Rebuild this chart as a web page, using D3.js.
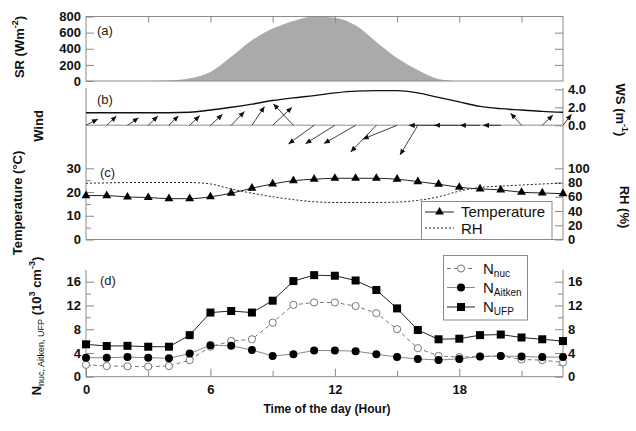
<!DOCTYPE html>
<html>
<head>
<meta charset="utf-8">
<script src="https://cdn.jsdelivr.net/npm/d3@7"></script>
<style>
  body { margin: 0; background: #fff; }
  svg { display: block; font-family: "Liberation Sans", Arial, sans-serif; }
  .tick text { font-weight: bold; font-size: 13px; fill: #111; }
  .tick line { stroke: #888; }
</style>
</head>
<body>
<svg id="chart" width="636" height="431"></svg>
<script>
// Hourly diurnal data, hour 0 .. 23
const hours = d3.range(24);
const srValues = [0, 0, 0, 0, 5, 33, 112, 300, 505, 650, 745, 800, 785, 690, 485, 285, 136, 25, 0, 0, 0, 0, 0, 0];
const wsValues = [1.4, 1.4, 1.4, 1.4, 1.4, 1.45, 1.7, 2.0, 2.35, 2.75, 3.05, 3.3, 3.6, 3.8, 3.85, 3.85, 3.6, 3.1, 2.6, 2.1, 1.85, 1.7, 1.55, 1.45];
// direction the wind blows toward, degrees clockwise from north
const windToward = [62, 46, 56, 46, 45, 46, 48, 44, 34, 47, 317, 234, 238, 240, 224, 248, 211, 270, 270, 270, 270, 318, 46, 38];
const tempValues = [18.5, 18.5, 17.9, 17.7, 17.2, 17.2, 18.0, 19.5, 21.6, 23.4, 24.8, 25.4, 25.8, 25.8, 25.8, 25.4, 24.4, 23.3, 22.0, 21.3, 20.9, 19.9, 19.6, 19.3];
const rhValues = [79, 79.5, 80, 80, 80, 80, 78, 71, 65, 60, 56, 53, 52, 52, 52, 52.5, 55, 60, 68, 73, 75, 76.5, 78, 79];
const nNuc = [2.0, 1.8, 1.75, 1.7, 1.8, 2.8, 5.05, 6.0, 6.3, 9.1, 12.1, 12.5, 12.5, 11.9, 10.7, 8.0, 4.8, 3.5, 3.3, 3.4, 3.5, 2.9, 2.8, 2.4];
const nAitken = [3.2, 3.2, 3.3, 3.2, 3.1, 3.9, 5.3, 5.2, 4.5, 3.5, 3.8, 4.4, 4.4, 4.3, 3.8, 3.3, 3.0, 2.8, 3.0, 3.4, 3.5, 3.4, 3.3, 3.3];
const nUfp = [5.45, 5.17, 5.2, 5.05, 5.05, 7.0, 10.8, 11.06, 10.8, 12.8, 16.1, 17.1, 17.0, 16.2, 14.6, 11.5, 7.86, 6.3, 6.4, 7.0, 7.1, 6.6, 6.3, 6.0];

const hourLabelTicks = [0, 6, 12, 18];
const hourMinorTicks = [3, 6, 9, 12, 15, 18, 21];
const srTicks = [0, 200, 400, 600, 800];
const wsTicks = [0, 2, 4];
const tempTicks = [0, 10, 20, 30];
const tempMinor = [5, 15, 25];
const rhTicks = [0, 20, 40, 60, 80, 100];
const nTicks = [0, 4, 8, 12, 16];
const nMinor = [2, 6, 10, 14];

const svg = d3.select("#chart");
const frame = "#8a8a8a";

const x = d3.scaleLinear().domain([0, 23]).range([86, 563]);
const ySR = d3.scaleLinear().domain([0, 800]).range([81, 16.5]);
const yWS = d3.scaleLinear().domain([0, 4]).range([125.3, 89.3]);
const arrowLen = d3.scaleLinear().domain([0, 4]).range([0, 38.5]);
const yT = d3.scaleLinear().domain([0, 30]).range([239.5, 168.3]);
const yRH = d3.scaleLinear().domain([0, 100]).range([239.5, 168.3]);
const yN = d3.scaleLinear().domain([0, 18]).range([376.7, 269.8]);

function axis(gen, tx, ty) {
  const g = svg.append("g").attr("transform", `translate(${tx},${ty})`).call(gen);
  g.select(".domain").remove();
  return g;
}
function vline(xp, y1, y2) {
  svg.append("line").attr("x1", xp).attr("x2", xp).attr("y1", y1).attr("y2", y2)
    .attr("stroke", frame).attr("stroke-width", 1);
}
function hline(yp, x1, x2) {
  svg.append("line").attr("x1", x1).attr("x2", x2).attr("y1", yp).attr("y2", yp)
    .attr("stroke", frame).attr("stroke-width", 1);
}

// ---------- (a) solar radiation ----------
svg.append("path")
  .datum(hours)
  .attr("fill", "#aaaaaa")
  .attr("d", d3.area().x(h => x(h)).y0(ySR(0)).y1(h => ySR(srValues[h])).curve(d3.curveMonotoneX));

svg.append("rect").attr("x", x(0)).attr("y", ySR(800))
  .attr("width", x(23) - x(0)).attr("height", ySR(0) - ySR(800))
  .attr("fill", "none").attr("stroke", frame);

axis(d3.axisLeft(ySR).tickValues(srTicks).tickSize(-8).tickPadding(5), x(0), 0);
axis(d3.axisRight(ySR).tickValues([200, 400, 600]).tickSize(-8).tickFormat(""), x(23), 0);
axis(d3.axisTop(x).tickValues(hourMinorTicks).tickSize(-6).tickFormat(""), 0, ySR(800));

// ---------- (b) wind ----------
vline(x(0), 88, yT(0));
vline(x(23), 88, yT(0));
hline(yT(0), x(0), x(23));

svg.append("line").attr("x1", x(0)).attr("x2", x(23))
  .attr("y1", yWS(0)).attr("y2", yWS(0))
  .attr("stroke", "#b4b4b4").attr("stroke-width", 1.5);

svg.append("path")
  .datum(hours)
  .attr("fill", "none").attr("stroke", "#111").attr("stroke-width", 1.4)
  .attr("d", d3.line().x(h => x(h)).y(h => yWS(wsValues[h])).curve(d3.curveMonotoneX));

svg.append("defs").append("marker")
  .attr("id", "head").attr("markerUnits", "userSpaceOnUse")
  .attr("viewBox", "0 -3 6 6").attr("refX", 6).attr("refY", 0)
  .attr("markerWidth", 6).attr("markerHeight", 6).attr("orient", "auto")
  .append("path").attr("d", "M0,-2.6L6,0L0,2.6Z").attr("fill", "#111");

svg.append("g").selectAll("line").data(hours).join("line")
  .attr("x1", h => x(h)).attr("y1", yWS(0))
  .attr("x2", h => x(h) + arrowLen(wsValues[h]) * Math.sin(windToward[h] * Math.PI / 180))
  .attr("y2", h => yWS(0) - arrowLen(wsValues[h]) * Math.cos(windToward[h] * Math.PI / 180))
  .attr("stroke", "#111").attr("stroke-width", 0.8)
  .attr("marker-end", "url(#head)");

axis(d3.axisRight(yWS).tickValues(wsTicks).tickSize(-8).tickPadding(5).tickFormat(d3.format(".1f")), x(23), 0);

// ---------- (c) temperature and RH ----------
axis(d3.axisLeft(yT).tickValues(tempTicks).tickSize(-8).tickPadding(5), x(0), 0);
axis(d3.axisLeft(yT).tickValues(tempMinor).tickSize(-5).tickFormat(""), x(0), 0);
axis(d3.axisRight(yRH).tickValues(rhTicks).tickSize(-8).tickPadding(5), x(23), 0);

svg.append("path")
  .datum(hours)
  .attr("fill", "none").attr("stroke", "#222").attr("stroke-width", 1)
  .attr("stroke-dasharray", "2,2")
  .attr("d", d3.line().x(h => x(h)).y(h => yRH(rhValues[h])).curve(d3.curveMonotoneX));

svg.append("path")
  .datum(hours)
  .attr("fill", "none").attr("stroke", "#222").attr("stroke-width", 1)
  .attr("d", d3.line().x(h => x(h)).y(h => yT(tempValues[h])).curve(d3.curveMonotoneX));

const tri = d3.symbol().type(d3.symbolTriangle).size(34);
svg.append("g").selectAll("path").data(hours).join("path")
  .attr("transform", h => `translate(${x(h)},${yT(tempValues[h])})`)
  .attr("d", tri).attr("fill", "#000");

// legend (c)
const lc = svg.append("g");
lc.append("rect").attr("x", 421.5).attr("y", 201.5).attr("width", 130.5).attr("height", 38)
  .attr("fill", "#fff").attr("stroke", frame);
lc.append("line").attr("x1", 425).attr("x2", 454).attr("y1", 212).attr("y2", 212).attr("stroke", "#222");
lc.append("path").attr("transform", "translate(439.5,212)").attr("d", tri).attr("fill", "#000");
lc.append("line").attr("x1", 425).attr("x2", 454).attr("y1", 228).attr("y2", 228)
  .attr("stroke", "#222").attr("stroke-dasharray", "2,2");
lc.append("text").attr("x", 461).attr("y", 217).attr("font-size", 15).attr("fill", "#111").text("Temperature");
lc.append("text").attr("x", 461).attr("y", 233.5).attr("font-size", 15).attr("fill", "#111").text("RH");

// ---------- (d) particle number ----------
vline(x(0), yN(18), yN(0));
vline(x(23), yN(18), yN(0));
hline(yN(0), x(0), x(23));

axis(d3.axisLeft(yN).tickValues(nTicks).tickSize(-8).tickPadding(5), x(0), 0);
axis(d3.axisLeft(yN).tickValues(nMinor).tickSize(-5).tickFormat(""), x(0), 0);
axis(d3.axisRight(yN).tickValues(nTicks).tickSize(-8).tickPadding(5), x(23), 0);
axis(d3.axisRight(yN).tickValues(nMinor).tickSize(-5).tickFormat(""), x(23), 0);
axis(d3.axisBottom(x).tickValues(hourLabelTicks).tickSize(-8).tickPadding(8), 0, yN(0));
axis(d3.axisBottom(x).tickValues([3, 9, 15, 21]).tickSize(-6).tickFormat(""), 0, yN(0));

const nLine = d3.line().x((d, i) => x(i)).y(d => yN(d));
svg.append("path").datum(nNuc).attr("fill", "none").attr("stroke", "#777")
  .attr("stroke-width", 1).attr("stroke-dasharray", "4,3").attr("d", nLine);
svg.append("g").selectAll("circle").data(nNuc).join("circle")
  .attr("cx", (d, i) => x(i)).attr("cy", d => yN(d)).attr("r", 3.6)
  .attr("fill", "#fff").attr("stroke", "#777").attr("stroke-width", 1);

svg.append("path").datum(nAitken).attr("fill", "none").attr("stroke", "#888")
  .attr("stroke-width", 1).attr("d", nLine);
svg.append("g").selectAll("circle").data(nAitken).join("circle")
  .attr("cx", (d, i) => x(i)).attr("cy", d => yN(d)).attr("r", 4)
  .attr("fill", "#000");

svg.append("path").datum(nUfp).attr("fill", "none").attr("stroke", "#222")
  .attr("stroke-width", 1).attr("d", nLine);
svg.append("g").selectAll("rect").data(nUfp).join("rect")
  .attr("x", (d, i) => x(i) - 4).attr("y", d => yN(d) - 4)
  .attr("width", 8).attr("height", 8).attr("fill", "#000");

// legend (d)
const ld = svg.append("g");
ld.append("rect").attr("x", 443.5).attr("y", 255.5).attr("width", 84).attr("height", 64.5)
  .attr("fill", "#fff").attr("stroke", frame);
const legRows = [
  { y: 268.5, sub: "nuc", kind: "nuc" },
  { y: 287.5, sub: "Aitken", kind: "ait" },
  { y: 307, sub: "UFP", kind: "ufp" }
];
legRows.forEach(r => {
  const ln = ld.append("line").attr("x1", 447).attr("x2", 475).attr("y1", r.y).attr("y2", r.y);
  if (r.kind === "nuc") {
    ln.attr("stroke", "#777").attr("stroke-dasharray", "4,3");
    ld.append("circle").attr("cx", 461).attr("cy", r.y).attr("r", 3.6).attr("fill", "#fff").attr("stroke", "#777");
  } else if (r.kind === "ait") {
    ln.attr("stroke", "#888");
    ld.append("circle").attr("cx", 461).attr("cy", r.y).attr("r", 4).attr("fill", "#000");
  } else {
    ln.attr("stroke", "#222");
    ld.append("rect").attr("x", 457).attr("y", r.y - 4).attr("width", 8).attr("height", 8).attr("fill", "#000");
  }
  const t = ld.append("text").attr("x", 483).attr("y", r.y + 5).attr("font-size", 15).attr("fill", "#111");
  t.append("tspan").text("N");
  t.append("tspan").attr("font-size", 10).attr("dy", 3).text(r.sub);
});

// ---------- panel tags ----------
const tags = [["(a)", 97, 35], ["(b)", 97, 104], ["(c)", 100, 177], ["(d)", 100, 285]];
tags.forEach(([s, tx, ty]) => {
  svg.append("text").attr("x", tx).attr("y", ty).attr("font-size", 13).attr("fill", "#222").text(s);
});

// ---------- axis titles ----------
function vtitle(xp, yp, angle) {
  return svg.append("text")
    .attr("transform", `translate(${xp},${yp}) rotate(${angle})`)
    .attr("text-anchor", "middle").attr("font-weight", "bold")
    .attr("font-size", 13).attr("fill", "#111");
}

const srT = vtitle(24, 47, -90);
srT.append("tspan").text("SR (Wm");
srT.append("tspan").attr("font-size", 9).attr("dy", -6).text("-2");
srT.append("tspan").attr("dy", 6).text(")");

vtitle(43, 126, -90).text("Wind");

vtitle(22, 203, -90).text("Temperature (°C)");

const nT = vtitle(41, 326, -90);
nT.append("tspan").text("N");
nT.append("tspan").attr("font-size", 9).attr("font-weight", "normal").attr("dy", 3).text("nuc, Aitken, UFP");
nT.append("tspan").attr("dy", -3).text(" (10");
nT.append("tspan").attr("font-size", 9).attr("dy", -6).text("3");
nT.append("tspan").attr("dy", 6).text(" cm");
nT.append("tspan").attr("font-size", 9).attr("dy", -6).text("-3");
nT.append("tspan").attr("dy", 6).text(")");

const wsT = vtitle(616, 110, 90);
wsT.append("tspan").text("WS (m");
wsT.append("tspan").attr("font-size", 9).attr("dy", -6).text("-1");
wsT.append("tspan").attr("dy", 6).text(")");

vtitle(620, 207, 90).text("RH (%)");

svg.append("text").attr("x", 327).attr("y", 413)
  .attr("text-anchor", "middle").attr("font-weight", "bold").attr("font-size", 12)
  .attr("fill", "#111").text("Time of the day (Hour)");
</script>
</body>
</html>
